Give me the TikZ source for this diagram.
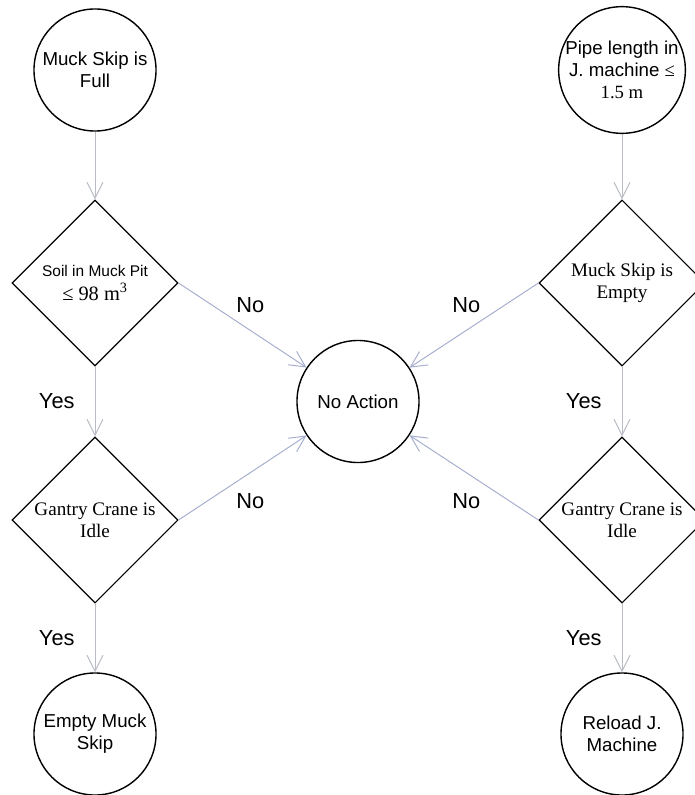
\documentclass[tikz,border=0pt]{standalone}
\usepackage{fontspec}
\setmainfont{Liberation Serif}
\setsansfont{Liberation Sans}
\usetikzlibrary{positioning, calc, shapes, arrows.meta}
\definecolor{flowgray}{RGB}{186,188,198}
\definecolor{flowblue}{RGB}{166,174,206}

\begin{document}
\begin{tikzpicture}[x=0.025cm, y=-0.025cm]
\tikzset{event/.style={
    circle, draw=black, line width=1pt, minimum size=3.05cm, inner sep=0pt, align=center, font=\sffamily\fontsize{13.3}{15.6}\selectfont},
    check/.style={
    diamond, draw=black, line width=0.8pt, minimum width=4.15cm, minimum height=4.15cm, inner sep=0pt, align=center, font=\fontsize{13.6}{15.6}\selectfont},
    flow/.style={
    draw=flowgray, line width=0.7pt, -{Straight Barb[length=4mm,width=4mm]}},
    answer/.style={
    font=\sffamily\fontsize{15.5}{18}\selectfont, inner sep=0pt}
}

    \useasboundingbox (0,0) rectangle (695,795);

    \coordinate (col_l) at (95, 70);
    \coordinate (col_r) at (622, 70);

    % left column
    \node[event] (skip_full) at (col_l) {Muck Skip is\\Full};
    \node[check] (soil_pit) at ($(col_l)+(0,213)$) {{\sffamily\fontsize{11}{13}\selectfont Soil in Muck Pit}\\[1pt]{\fontsize{14.5}{17}\selectfont ≤ 98 m\textsuperscript{3}}};
    \node[check] (crane_l) at ($(soil_pit)+(0,237)$) {Gantry Crane is\\Idle};
    \node[event] (empty_skip) at ($(crane_l)+(0,214)$) {Empty Muck\\Skip};

    % right column
    \node[event] (pipe_len) at (col_r) {Pipe length in\\J. machine {\rmfamily ≤}\\{\rmfamily 1.5 m}};
    \node[check] (skip_empty) at ($(col_r)+(0,213)$) {Muck Skip is\\Empty};
    \node[check] (crane_r) at ($(skip_empty)+(0,237)$) {Gantry Crane is\\Idle};
    \node[event] (reload) at ($(crane_r)+(0,214)$) {Reload J.\\Machine};

    \node[event] (no_action) at ($(soil_pit)!0.5!(crane_l)+(263,0)$) {No Action};

    \draw[flow] (skip_full) -- (soil_pit);
    \draw[flow] (soil_pit) -- node[answer, left=5mm]{Yes} (crane_l);
    \draw[flow] (crane_l) -- node[answer, left=5mm]{Yes} (empty_skip);
    \draw[flow, draw=flowblue] (soil_pit.east) -- node[answer, pos=0.56, above=4.2mm]{No} (no_action);
    \draw[flow, draw=flowblue] (crane_l.east) -- node[answer, pos=0.56, below=5mm]{No} (no_action);

    \draw[flow] (pipe_len) -- (skip_empty);
    \draw[flow] (skip_empty) -- node[answer, left=5mm]{Yes} (crane_r);
    \draw[flow] (crane_r) -- node[answer, left=5mm]{Yes} (reload);
    \draw[flow, draw=flowblue] (skip_empty.west) -- node[answer, pos=0.56, above=4.2mm]{No} (no_action);
    \draw[flow, draw=flowblue] (crane_r.west) -- node[answer, pos=0.56, below=5mm]{No} (no_action);

\end{tikzpicture}
\end{document}
